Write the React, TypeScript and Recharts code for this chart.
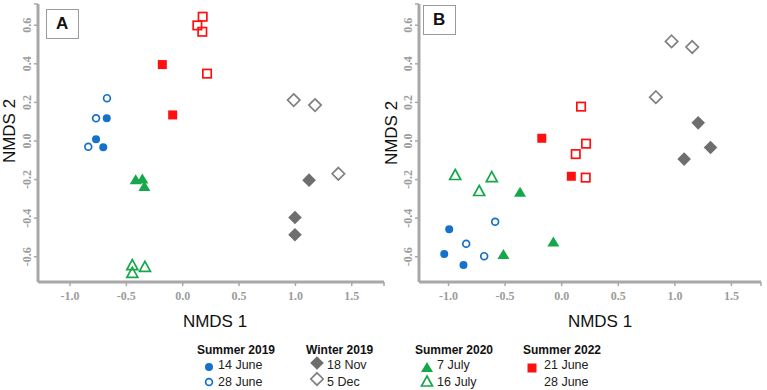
import React from "react";
import { ScatterChart, Scatter, XAxis, YAxis } from "recharts";

// ---------- Data (NMDS coordinates) ----------
// Panel A
const aJune14 = [{ x: -0.674, y: 0.118 }, { x: -0.769, y: 0.009 }, { x: -0.705, y: -0.033 }];
const aJune28_2019 = [{ x: -0.672, y: 0.222 }, { x: -0.769, y: 0.118 }, { x: -0.838, y: -0.03 }];
const aNov18 = [{ x: 1.121, y: -0.203 }, { x: 0.996, y: -0.397 }, { x: 0.996, y: -0.486 }];
const aDec5 = [{ x: 0.985, y: 0.212 }, { x: 1.174, y: 0.186 }, { x: 1.381, y: -0.17 }];
const aJuly7 = [{ x: -0.417, y: -0.203 }, { x: -0.358, y: -0.2 }, { x: -0.34, y: -0.238 }];
const aJuly16 = [{ x: -0.447, y: -0.646 }, { x: -0.447, y: -0.686 }, { x: -0.335, y: -0.655 }];
const aJune21 = [{ x: -0.181, y: 0.396 }, { x: -0.089, y: 0.135 }];
const aJune28_2022 = [{ x: 0.177, y: 0.644 }, { x: 0.13, y: 0.599 }, { x: 0.174, y: 0.566 }, { x: 0.216, y: 0.349 }];

// Panel B
const bJune14 = [{ x: -0.994, y: -0.458 }, { x: -1.038, y: -0.586 }, { x: -0.868, y: -0.643 }];
const bJune28_2019 = [{ x: -0.588, y: -0.419 }, { x: -0.844, y: -0.533 }, { x: -0.685, y: -0.597 }];
const bNov18 = [{ x: 1.206, y: 0.094 }, { x: 1.315, y: -0.034 }, { x: 1.082, y: -0.094 }];
const bDec5 = [{ x: 0.971, y: 0.516 }, { x: 1.153, y: 0.487 }, { x: 0.832, y: 0.227 }];
const bJuly7 = [{ x: -0.368, y: -0.268 }, { x: -0.074, y: -0.526 }, { x: -0.515, y: -0.591 }];
const bJuly16 = [{ x: -0.941, y: -0.179 }, { x: -0.618, y: -0.19 }, { x: -0.729, y: -0.262 }];
const bJune21 = [{ x: -0.176, y: 0.014 }, { x: 0.085, y: -0.183 }];
const bJune28_2022 = [{ x: 0.171, y: 0.178 }, { x: 0.215, y: -0.014 }, { x: 0.124, y: -0.068 }, { x: 0.212, y: -0.19 }];

// Axis ticks
const xTicks = [-1, -0.5, 0, 0.5, 1, 1.5];
const yTicks = [-0.6, -0.4, -0.2, 0, 0.2, 0.4, 0.6];

// Legend
const legendGroups = [
  { title: "Summer 2019", items: ["14 June", "28 June"] },
  { title: "Winter 2019", items: ["18 Nov", "5 Dec"] },
  { title: "Summer 2020", items: ["7 July", "16 July"] },
  { title: "Summer 2022", items: ["21 June", "28 June"] },
];

// ---------- Styling ----------
const BLUE = "#1571c9";
const GREEN = "#15a84a";
const RED = "#ff1010";
const GRAY_FILL = "#6e6e6e";
const GRAY_LINE = "#808080";
const AXIS = "#a8a8a8";
const TICK_TXT = "#9c9c9c";

type Kind = "circle" | "square" | "diamond" | "triangle";

function Marker({ cx, cy, kind, color, filled }: { cx: number; cy: number; kind: Kind; color: string; filled: boolean }) {
  if (cx == null || cy == null) return null;
  const sw = 1.7;
  if (kind === "circle") {
    return filled ? (
      <circle cx={cx} cy={cy} r={4} fill={color} />
    ) : (
      <circle cx={cx} cy={cy} r={3.4} fill="#fff" stroke={color} strokeWidth={sw} />
    );
  }
  if (kind === "square") {
    return filled ? (
      <rect x={cx - 4.5} y={cy - 4.5} width={9} height={9} fill={color} />
    ) : (
      <rect x={cx - 4.2} y={cy - 4.2} width={8.4} height={8.4} fill="none" stroke={color} strokeWidth={sw} />
    );
  }
  if (kind === "diamond") {
    const h = filled ? 6.8 : 6.2;
    const pts = `${cx},${cy - h} ${cx + h},${cy} ${cx},${cy + h} ${cx - h},${cy}`;
    return filled ? (
      <polygon points={pts} fill={color} />
    ) : (
      <polygon points={pts} fill="none" stroke={color} strokeWidth={sw} />
    );
  }
  const w = filled ? 6 : 5.5;
  const pts = `${cx},${cy - 6} ${cx + w},${cy + 4} ${cx - w},${cy + 4}`;
  return filled ? (
    <polygon points={pts} fill={color} />
  ) : (
    <polygon points={pts} fill="none" stroke={color} strokeWidth={sw} strokeLinejoin="miter" />
  );
}

const shapeOf = (kind: Kind, color: string, filled: boolean) => (props: any) =>
  <Marker cx={props.cx} cy={props.cy} kind={kind} color={color} filled={filled} />;

const PLOT_BOTTOM = 282;
const AXIS_X = 38;

const XTick = (edge: number) => (props: any) => {
  const { x, payload } = props;
  if (payload.value === edge) return <g />;
  return (
    <text x={x} y={PLOT_BOTTOM + 18} textAnchor="middle" fill={TICK_TXT} fontSize={12} fontWeight="bold" fontFamily="'Liberation Serif', 'DejaVu Serif', serif">
      {Number(payload.value).toFixed(1)}
    </text>
  );
};

const YTick = (edge: number) => (props: any) => {
  const { y, payload } = props;
  if (payload.value === edge) return <g />;
  const tx = AXIS_X - 7;
  return (
    <text x={tx} y={y} transform={`rotate(-90 ${tx} ${y})`} textAnchor="middle" fill={TICK_TXT} fontSize={12} fontWeight="bold" fontFamily="'Liberation Serif', 'DejaVu Serif', serif">
      {Number(payload.value).toFixed(1)}
    </text>
  );
};

type PanelProps = {
  left: number;
  width: number;
  xDomain: [number, number];
  yDomain: [number, number];
  sets: { data: { x: number; y: number }[]; kind: Kind; color: string; filled: boolean }[];
};

function Panel({ left, width, xDomain, yDomain, sets }: PanelProps) {
  return (
    <div style={{ position: "absolute", left, top: 0, width, height: 312 }}>
      <ScatterChart width={width} height={312} margin={{ top: 4, right: 6, bottom: 0, left: 0 }}>
        <XAxis
          type="number"
          dataKey="x"
          domain={xDomain}
          allowDataOverflow
          ticks={[...xTicks, xDomain[1]]}
          interval={0}
          height={312 - 4 - PLOT_BOTTOM + 4}
          tickSize={4}
          axisLine={{ stroke: AXIS, strokeWidth: 3 }}
          tickLine={{ stroke: AXIS, strokeWidth: 1.5 }}
          tick={XTick(xDomain[1])}
        />
        <YAxis
          type="number"
          dataKey="y"
          domain={yDomain}
          allowDataOverflow
          ticks={[...yTicks, yDomain[1]]}
          interval={0}
          width={AXIS_X}
          tickSize={4}
          axisLine={{ stroke: AXIS, strokeWidth: 3 }}
          tickLine={{ stroke: AXIS, strokeWidth: 1.5 }}
          tick={YTick(yDomain[1])}
        />
        {sets.map((s, i) => (
          <Scatter key={i} data={s.data} isAnimationActive={false} shape={shapeOf(s.kind, s.color, s.filled)} />
        ))}
      </ScatterChart>
    </div>
  );
}

const setsFor = (
  j14: any[], j28: any[], n18: any[], d5: any[], jl7: any[], jl16: any[], j21: any[], j28b: any[]
) => [
  { data: j14, kind: "circle" as Kind, color: BLUE, filled: true },
  { data: j28, kind: "circle" as Kind, color: BLUE, filled: false },
  { data: n18, kind: "diamond" as Kind, color: GRAY_FILL, filled: true },
  { data: d5, kind: "diamond" as Kind, color: GRAY_LINE, filled: false },
  { data: jl7, kind: "triangle" as Kind, color: GREEN, filled: true },
  { data: jl16, kind: "triangle" as Kind, color: GREEN, filled: false },
  { data: j21, kind: "square" as Kind, color: RED, filled: true },
  { data: j28b, kind: "square" as Kind, color: RED, filled: false },
];

const sans = "'Liberation Sans', Arial, sans-serif";

function RotLabel({ cx, cy, text }: { cx: number; cy: number; text: string }) {
  return (
    <div
      style={{
        position: "absolute",
        left: cx,
        top: cy,
        transform: "translate(-50%, -50%) rotate(-90deg)",
        whiteSpace: "nowrap",
        fontFamily: sans,
        fontSize: 17,
        color: "#111",
        lineHeight: "20px",
      }}
    >
      {text}
    </div>
  );
}

function HLabel({ cx, cy, text }: { cx: number; cy: number; text: string }) {
  return (
    <div
      style={{
        position: "absolute",
        left: cx,
        top: cy,
        transform: "translate(-50%, -50%)",
        whiteSpace: "nowrap",
        fontFamily: sans,
        fontSize: 17,
        color: "#111",
        lineHeight: "20px",
      }}
    >
      {text}
    </div>
  );
}

function PanelTag({ left, top, text }: { left: number; top: number; text: string }) {
  return (
    <div
      style={{
        position: "absolute",
        left,
        top,
        width: 33,
        height: 30,
        border: "1px solid #9a9a9a",
        boxSizing: "border-box",
        background: "#fff",
        fontFamily: sans,
        fontWeight: "bold",
        fontSize: 17,
        lineHeight: "28px",
        paddingLeft: 9,
        color: "#111",
      }}
    >
      {text}
    </div>
  );
}

const legendLayout = [
  { titleX: 197, markX: 209, textX: 218, kinds: [["circle", BLUE, true], ["circle", BLUE, false]] },
  { titleX: 306, markX: 317, textX: 327, kinds: [["diamond", GRAY_FILL, true], ["diamond", GRAY_LINE, false]] },
  { titleX: 415, markX: 427, textX: 437, kinds: [["triangle", GREEN, true], ["triangle", GREEN, false]] },
  { titleX: 523, markX: 532, textX: 544, kinds: [["square", RED, true], null] },
];

function Legend() {
  const rowY = [365, 382];
  const markY = [[367, 382], [363, 379], [368, 382], [368, 382]];
  return (
    <>
      <svg style={{ position: "absolute", left: 0, top: 0, pointerEvents: "none" }} width={767} height={390}>
        {legendLayout.map((g, gi) =>
          g.kinds.map((k: any, ki) =>
            k ? <Marker key={`${gi}-${ki}`} cx={g.markX} cy={markY[gi][ki]} kind={k[0]} color={k[1]} filled={k[2]} /> : null
          )
        )}
      </svg>
      {legendGroups.map((g, gi) => (
        <React.Fragment key={gi}>
          <div
            style={{
              position: "absolute",
              left: legendLayout[gi].titleX,
              top: 350 - 7,
              lineHeight: "14px",
              fontFamily: sans,
              fontWeight: "bold",
              fontSize: 12,
              color: "#111",
              whiteSpace: "nowrap",
            }}
          >
            {g.title}
          </div>
          {g.items.map((it, ii) => (
            <div
              key={ii}
              style={{
                position: "absolute",
                left: legendLayout[gi].textX,
                top: rowY[ii] - 7,
                lineHeight: "14px",
                fontFamily: sans,
                fontSize: 12.5,
                color: "#222",
                whiteSpace: "nowrap",
              }}
            >
              {it}
            </div>
          ))}
        </React.Fragment>
      ))}
    </>
  );
}

export default function App() {
  return (
    <div style={{ position: "absolute", left: 0, top: 0, width: 767, height: 390, background: "#fff", overflow: "hidden" }}>
      <Panel
        left={0}
        width={390}
        xDomain={[-1.284, 1.786]}
        yDomain={[-0.731, 0.71]}
        sets={setsFor(aJune14, aJune28_2019, aNov18, aDec5, aJuly7, aJuly16, aJune21, aJune28_2022)}
      />
      <Panel
        left={381}
        width={386}
        xDomain={[-1.261, 1.761]}
        yDomain={[-0.731, 0.71]}
        sets={setsFor(bJune14, bJune28_2019, bNov18, bDec5, bJuly7, bJuly16, bJune21, bJune28_2022)}
      />
      <PanelTag left={46} top={9} text="A" />
      <PanelTag left={423} top={5} text="B" />
      <RotLabel cx={10} cy={131} text="NMDS 2" />
      <RotLabel cx={392} cy={133} text="NMDS 2" />
      <HLabel cx={215} cy={322} text="NMDS 1" />
      <HLabel cx={600} cy={322} text="NMDS 1" />
      <Legend />
    </div>
  );
}
